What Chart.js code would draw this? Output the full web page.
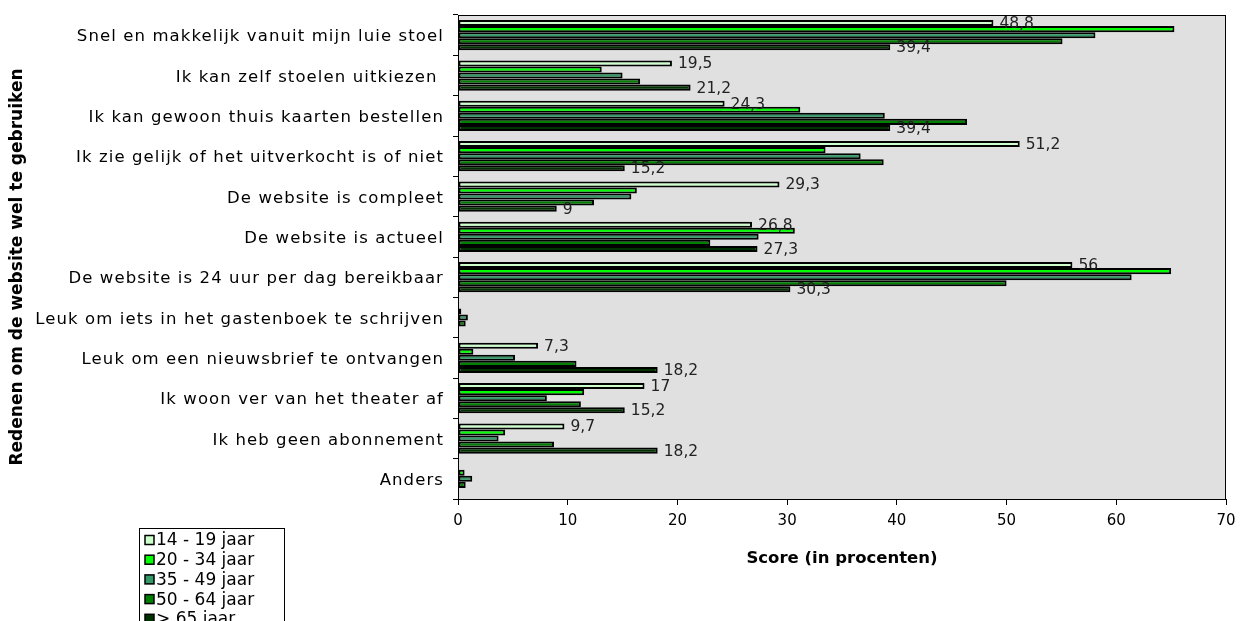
<!DOCTYPE html>
<html>
<head>
<meta charset="utf-8">
<title>Redenen om de website te gebruiken</title>
<script src="https://cdn.jsdelivr.net/npm/chart.js@4/dist/chart.umd.min.js"></script>
<style>
  html, body { margin: 0; padding: 0; background: #ffffff; }
  #wrap { width: 1240px; height: 621px; position: relative; }
</style>
</head>
<body>
<div id="wrap"><canvas id="chart" width="1240" height="621"></canvas></div>
<script>
// Redenen (categorieën), van boven naar beneden
const categories = [
  'Snel en makkelijk vanuit mijn luie stoel',
  'Ik kan zelf stoelen uitkiezen ',
  'Ik kan gewoon thuis kaarten bestellen',
  'Ik zie gelijk of het uitverkocht is of niet',
  'De website is compleet',
  'De website is actueel',
  'De website is 24 uur per dag bereikbaar',
  'Leuk om iets in het gastenboek te schrijven',
  'Leuk om een nieuwsbrief te ontvangen',
  'Ik woon ver van het theater af',
  'Ik heb geen abonnement',
  'Anders'
];

// Leeftijdsgroepen
const seriesNames = ['14 - 19 jaar', '20 - 34 jaar', '35 - 49 jaar', '50 - 64 jaar', '> 65 jaar'];

// Scores in procenten per leeftijdsgroep
const age14to19 = [48.8, 19.5, 24.3, 51.2, 29.3, 26.8, 56.0, 0, 7.3, 17.0, 9.7, 0];
const age20to34 = [65.3, 13.1, 31.2, 33.5, 16.3, 30.7, 65.0, 0.3, 1.4, 11.5, 4.3, 0.6];
const age35to49 = [58.1, 15.0, 38.9, 36.7, 15.8, 27.4, 61.4, 0.9, 5.2, 8.1, 3.7, 1.3];
const age50to64 = [55.1, 16.6, 46.4, 38.8, 12.4, 23.0, 50.0, 0.7, 10.8, 11.2, 8.75, 0.7];
const age65plus = [39.4, 21.2, 39.4, 15.2, 9.0, 27.3, 30.3, 0, 18.2, 15.2, 18.2, 0];

// Schaal van de waarde-as
const xTicks = [0, 10, 20, 30, 40, 50, 60, 70];

const seriesColors = ['#CCFFCC', '#00FF00', '#339966', '#008000', '#003300'];
const seriesValues = [age14to19, age20to34, age35to49, age50to64, age65plus];
// Alleen de jongste en oudste groep krijgen een waardelabel
const labelledSeries = [0, 4];

const FONT = "'DejaVu Sans', Verdana, sans-serif";
const yTitle = 'Redenen om de website wel te gebruiken';

// Grijze plotachtergrond met zwarte rand
const plotFrame = {
  id: 'plotFrame',
  beforeDatasetsDraw(chart) {
    const { ctx, chartArea: a } = chart;
    ctx.save();
    ctx.fillStyle = '#E0E0E0';
    ctx.fillRect(a.left, a.top, a.right - a.left, a.bottom - a.top);
    ctx.restore();
  },
  afterDraw(chart) {
    const { ctx, chartArea: a } = chart;
    ctx.save();
    ctx.strokeStyle = '#000';
    ctx.lineWidth = 1;
    ctx.strokeRect(a.left + 0.5, a.top + 0.5, a.right - a.left - 1, a.bottom - a.top);
    ctx.restore();
  }
};

// Iets ruimere letterafstand voor de categorielabels
const spacedCategoryLabels = {
  id: 'spacedCategoryLabels',
  afterLayout(chart) {
    const s = chart.scales.y;
    if (s && !s._spaced) {
      const orig = s.drawLabels.bind(s);
      s.drawLabels = function (area) {
        const c = this.ctx;
        c.save();
        c.letterSpacing = '1.1px';
        c.translate(0, 2);
        orig(area);
        c.restore();
      };
      s._spaced = true;
    }
  }
};

// Waardelabels rechts van de balken, met decimale komma
const valueLabels = {
  id: 'valueLabels',
  afterDatasetsDraw(chart) {
    const { ctx } = chart;
    ctx.save();
    ctx.font = '15.5px ' + FONT;
    ctx.fillStyle = '#222';
    ctx.textAlign = 'left';
    ctx.textBaseline = 'middle';
    labelledSeries.forEach(di => {
      const meta = chart.getDatasetMeta(di);
      const data = chart.data.datasets[di].data;
      meta.data.forEach((bar, i) => {
        const v = data[i];
        if (!v) return;
        ctx.fillText(String(v).replace('.', ','), bar.x + 6, bar.y + 1);
      });
    });
    ctx.restore();
  }
};

// Verticale astitel links, gedraaid
const sideTitle = {
  id: 'sideTitle',
  afterDraw(chart) {
    const { ctx } = chart;
    ctx.save();
    ctx.translate(18, 267);
    ctx.rotate(-Math.PI / 2);
    ctx.font = 'bold 17px ' + FONT;
    ctx.fillStyle = '#000';
    ctx.textAlign = 'center';
    ctx.textBaseline = 'middle';
    ctx.fillText(yTitle, 0, 0);
    ctx.restore();
  }
};

// Legenda linksonder in een kader
const boxLegend = {
  id: 'boxLegend',
  afterDraw(chart) {
    const { ctx } = chart;
    const left = 139, top = 528, width = 145, rowH = 19.7;
    ctx.save();
    ctx.fillStyle = '#fff';
    ctx.fillRect(left, top, width, 120);
    ctx.strokeStyle = '#000';
    ctx.lineWidth = 1;
    ctx.strokeRect(left + 0.5, top + 0.5, width, 120);
    ctx.font = '17px ' + FONT;
    ctx.textBaseline = 'middle';
    ctx.textAlign = 'left';
    chart.data.datasets.forEach((ds, i) => {
      const cy = top + 12 + i * rowH;
      ctx.fillStyle = ds.backgroundColor;
      ctx.fillRect(145, cy - 4.5, 9, 9);
      ctx.strokeStyle = '#000';
      ctx.lineWidth = 1.5;
      ctx.strokeRect(145, cy - 4.5, 9, 9);
      ctx.fillStyle = '#000';
      ctx.fillText(ds.label, 156, cy + 1);
    });
    ctx.restore();
  }
};

new Chart(document.getElementById('chart'), {
  type: 'bar',
  data: {
    labels: categories,
    datasets: seriesNames.map((name, i) => ({
      label: name,
      data: seriesValues[i],
      backgroundColor: seriesColors[i],
      borderColor: '#000',
      borderWidth: 2,
      borderSkipped: false,
      barPercentage: 1,
      categoryPercentage: 0.75
    }))
  },
  options: {
    indexAxis: 'y',
    responsive: false,
    animation: false,
    layout: { padding: { left: 0, top: 15, right: 14, bottom: 52 } },
    plugins: { legend: { display: false }, tooltip: { enabled: false } },
    scales: {
      x: {
        min: xTicks[0],
        max: xTicks[xTicks.length - 1],
        afterBuildTicks(scale) { scale.ticks = xTicks.map(v => ({ value: v })); },
        ticks: { color: '#000', font: { family: FONT, size: 15 }, padding: 7, maxRotation: 0 },
        grid: { drawOnChartArea: false, drawTicks: true, tickLength: 6, color: '#000' },
        border: { color: '#000' },
        title: {
          display: true, text: 'Score (in procenten)', color: '#000',
          font: { family: FONT, size: 16.5, weight: 'bold' }, padding: 0
        },
        afterFit(scale) {
          scale.height = 70;
          scale.paddingLeft = 0;
          scale.paddingRight = 0;
        }
      },
      y: {
        ticks: { color: '#000', font: { family: FONT, size: 16.5 }, padding: 9, autoSkip: false },
        grid: { offset: true, drawOnChartArea: false, drawTicks: true, tickLength: 5, color: '#000' },
        border: { color: '#000' },
        title: { display: false },
        afterFit(scale) {
          scale.width = 458;
          scale.paddingTop = 0;
          scale.paddingBottom = 0;
        }
      }
    }
  },
  plugins: [spacedCategoryLabels, plotFrame, valueLabels, sideTitle, boxLegend]
});
</script>
</body>
</html>
